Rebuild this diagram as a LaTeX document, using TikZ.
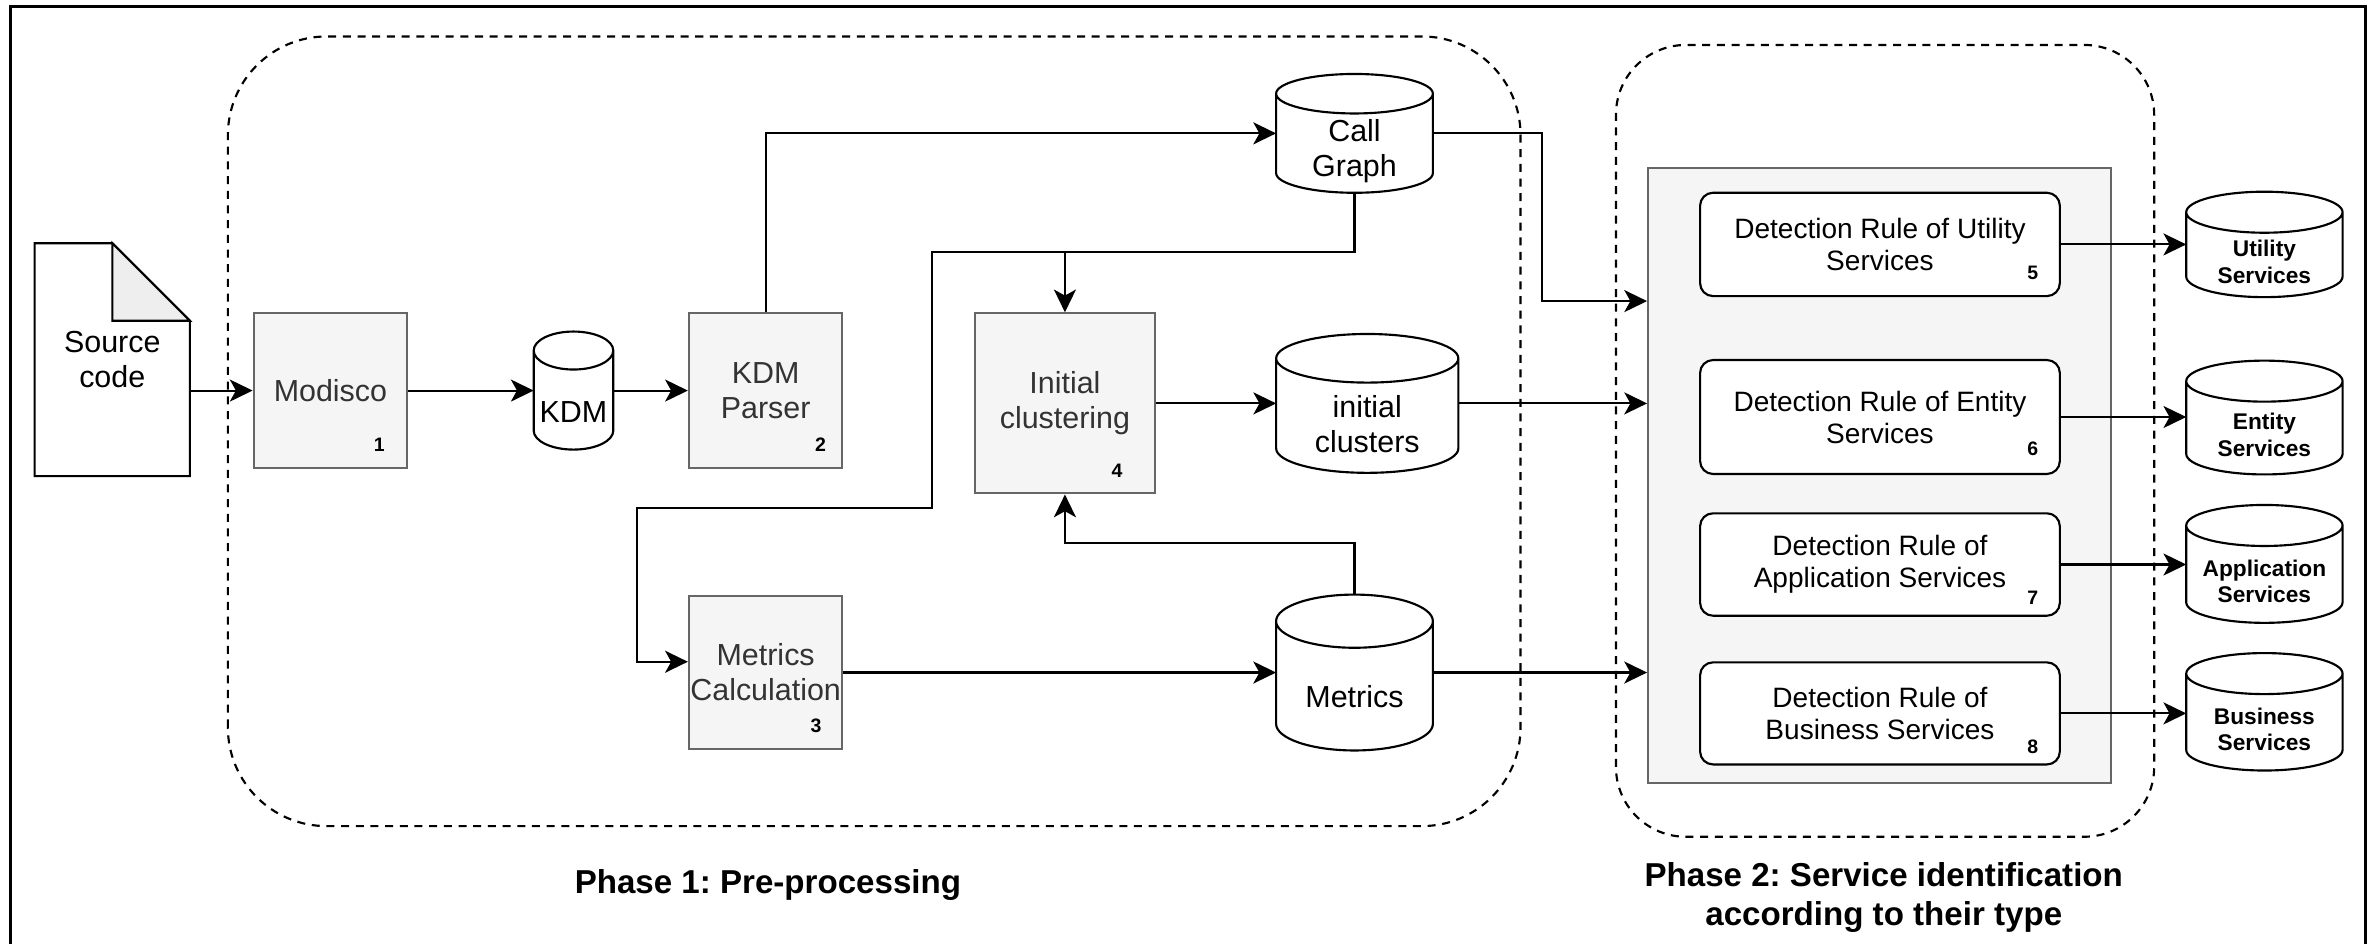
\documentclass[tikz,border=0pt]{standalone}
\usepackage{fontspec}
\setmainfont{Liberation Sans}
\frenchspacing
\usetikzlibrary{arrows.meta, calc}
\definecolor{boxfill}{HTML}{F5F5F5}
\definecolor{boxline}{HTML}{666666}
\definecolor{boxtext}{HTML}{333333}
\definecolor{foldfill}{HTML}{EEEEEE}
\newcommand{\mainsize}{\fontsize{11.4}{13.1}\selectfont}
\newcommand{\rulesize}{\fontsize{10.5}{12}\selectfont}
\newcommand{\outsize}{\fontsize{8.5}{10}\selectfont}
\newcommand{\numsize}{\fontsize{7.3}{8}\selectfont}
\newcommand{\phasesize}{\fontsize{12.4}{14.4}\selectfont}
\tikzset{arr/.style={-{Stealth[length=0.3cm, width=0.29cm, inset=0.08cm]}},
  phase/.style={dash pattern=on 3pt off 2.5pt},
  process/.style={draw=boxline, fill=boxfill, text=boxtext, inner sep=0pt, align=center, font=\mainsize},
  rule/.style={draw, fill=white, rounded corners=0.17cm, minimum width=4.736cm, inner sep=0pt, align=center, font=\rulesize},
  store/.style={inner sep=0pt},
  storetext/.style={align=center, font=\mainsize},
  outtext/.style={align=center, font=\outsize\bfseries},
  docnode/.style={minimum width=2.016cm, minimum height=3.038cm, inner sep=0pt, align=center, font=\mainsize},
  num/.style={font=\numsize\bfseries, inner sep=0pt},
  phaselabel/.style={align=center, font=\phasesize\bfseries}}
\begin{document}
\begin{tikzpicture}[line width=0.8pt]
        \useasboundingbox (0, 0) rectangle (31.32, 12.416);
        \draw[line width=1.1pt] (0.134, -0.2) rectangle (31.148, 12.328);
        % the two phases
        \draw[phase, rounded corners=1.3cm] (3.0, 1.54) rectangle (20.018, 11.936);
        \draw[phase, rounded corners=0.92cm] (21.274, 1.4) rectangle (28.36, 11.824);
        \node[phaselabel] (p1) at (10.11, 0.76) {Phase 1: Pre-processing};
        \node[phaselabel] (p2) at (24.8, 0.60) {Phase 2: Service identification\\according to their type};

        \node[docnode] (src) at (1.478, 7.681) {Source\\code};
        \draw (src.north west) -- ([xshift=-1.02cm]src.north east) -- ([yshift=-1.02cm]src.north east)
          -- (src.south east) -- (src.south west) -- cycle;
        \filldraw[fill=foldfill] ([xshift=-1.02cm]src.north east) |- ([yshift=-1.02cm]src.north east) -- cycle;

        \node[process, minimum width=2.02cm, minimum height=2.032cm] (modisco) at (4.35, 7.274) {Modisco};
        \node[process, minimum width=2.02cm, minimum height=2.032cm] (parser) at (10.08, 7.274) {KDM\\Parser};
        \node[process, minimum width=2.02cm, minimum height=2.024cm] (mcalc) at (10.08, 3.562) {Metrics\\Calculation};
        \node[process, minimum width=2.364cm, minimum height=2.37cm] (init) at (14.02, 7.105) {Initial\\clustering};

        \node[store, minimum width=1.02cm, minimum height=1.526cm,
          label={[storetext, yshift=-0.28cm]center:KDM}] (kdm) at (7.55, 7.274) {};
        \node[store, minimum width=2.036cm, minimum height=1.536cm,
          label={[storetext, yshift=-0.23cm]center:Call\\Graph}] (cg) at (17.832, 10.66) {};
        \node[store, minimum width=2.37cm, minimum height=1.8cm,
          label={[storetext, yshift=-0.27cm]center:initial\\clusters}] (clusters) at (18.0, 7.105) {};
        \node[store, minimum width=2.036cm, minimum height=2.024cm,
          label={[storetext, yshift=-0.32cm]center:Metrics}] (metrics) at (17.832, 3.562) {};

        \node[draw=boxline, fill=boxfill, minimum width=6.092cm, minimum height=8.098cm, inner sep=0pt] (rules) at (24.744, 6.159) {};
        \node[rule, minimum height=1.36cm] (r5) at (24.75, 9.198) {Detection Rule of Utility\\Services};
        \node[rule, minimum height=1.5cm] (r6) at (24.75, 6.926) {Detection Rule of Entity\\Services};
        \node[rule, minimum height=1.348cm] (r7) at (24.75, 4.984) {Detection Rule of\\Application Services};
        \node[rule, minimum height=1.344cm] (r8) at (24.75, 3.024) {Detection Rule of\\Business Services};

        \node[store, minimum width=2.03cm, minimum height=1.36cm,
          label={[outtext, yshift=-0.23cm]center:Utility\\Services}] (utility) at (29.811, 9.198) {};
        \node[store, minimum width=2.03cm, minimum height=1.47cm,
          label={[outtext, yshift=-0.23cm]center:Entity\\Services}] (entity) at (29.811, 6.919) {};
        \node[store, minimum width=2.03cm, minimum height=1.524cm,
          label={[outtext, yshift=-0.23cm]center:Application\\Services}] (application) at (29.811, 4.992) {};
        \node[store, minimum width=2.03cm, minimum height=1.518cm,
          label={[outtext, yshift=-0.23cm]center:Business\\Services}] (business) at (29.811, 3.045) {};

        % cylinder outlines
        \foreach \s/\ry in {kdm/0.25cm, cg/0.26cm, clusters/0.32cm, metrics/0.35cm,
            utility/0.27cm, entity/0.27cm, application/0.27cm, business/0.27cm}{
          \draw let \p1=(\s.north west), \p2=(\s.south east), \n1={(\x2-\x1)/2} in
            (\x1, \y1-\ry) -- (\x1, \y2+\ry) arc[start angle=180, end angle=360, x radius=\n1, y radius=\ry]
            -- (\x2, \y1-\ry)
            (\x1+\n1, \y1-\ry) ellipse[x radius=\n1, y radius=\ry];
        }

        \foreach \b/\k/\dx/\dy in {modisco/1/-0.38/0.32, parser/2/-0.30/0.32, mcalc/3/-0.36/0.32, init/4/-0.51/0.31,
            r5/5/-0.37/0.32, r6/6/-0.37/0.34, r7/7/-0.37/0.25, r8/8/-0.37/0.25}{
          \node[num] (n\k) at ($(\b.south east)+(\dx, \dy)$) {\k};
        }

        \draw[arr] (src.east |- modisco) -- (modisco);
        \draw[arr] (modisco) -- (kdm);
        \draw[arr] (kdm) -- (parser);
        \draw[arr] (parser.north) |- (cg.west);
        \coordinate (cgsplit) at (12.266, 9.094);
        \draw[arr] (cg.south) |- (cgsplit) |- (8.384, 5.724) |- ([yshift=0.142cm]mcalc.west);
        \draw[arr] (cgsplit -| init.north) -- (init.north);
        \draw[arr] (metrics.north) -- ++(0, 0.674) -| (init.south);
        \draw[arr] (init) -- (clusters);
        \draw[arr] (mcalc) -- (metrics);
        \draw[arr] (cg.east) -- ++(1.438, 0) |- (rules.west |- 0,8.452);
        \draw[arr] (clusters.east) -- (clusters.east -| rules.west);
        \draw[arr] (metrics.east) -- (metrics.east -| rules.west);
        \foreach \a/\b in {r5/utility, r6/entity, r7/application, r8/business}
          \draw[arr] (\a.east) -- (\a.east -| \b.west);
\end{tikzpicture}
\end{document}
